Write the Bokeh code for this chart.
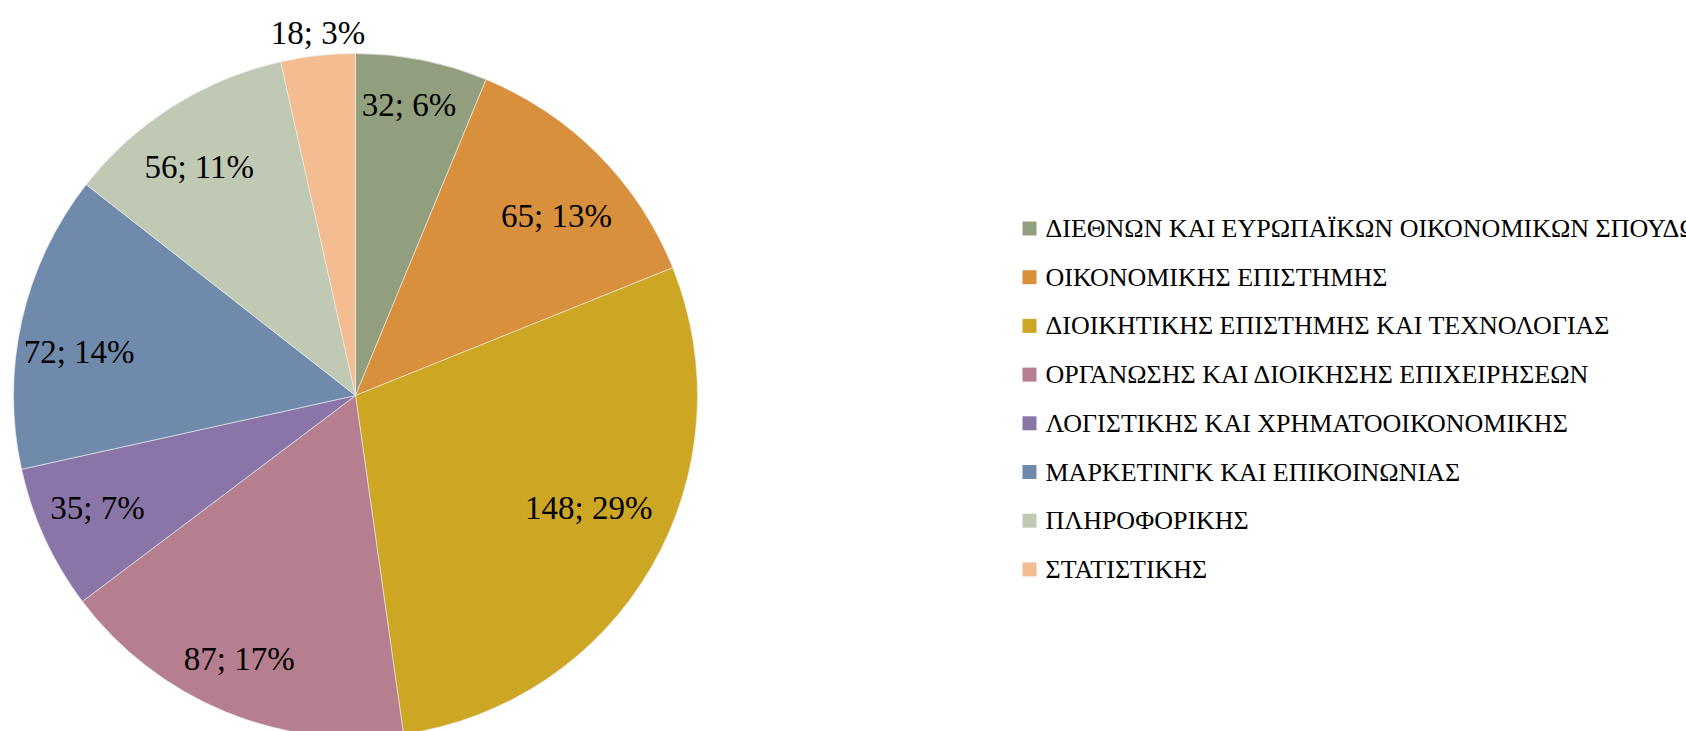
import math
from bokeh.plotting import figure
from bokeh.models import Range1d, ColumnDataSource
from bokeh.core.properties import value
from bokeh.embed import file_html
from bokeh.resources import INLINE

# ---- data ----
categories = [
    "ΔΙΕΘΝΩΝ ΚΑΙ ΕΥΡΩΠΑΪΚΩΝ ΟΙΚΟΝΟΜΙΚΩΝ ΣΠΟΥΔΩΝ",
    "ΟΙΚΟΝΟΜΙΚΗΣ ΕΠΙΣΤΗΜΗΣ",
    "ΔΙΟΙΚΗΤΙΚΗΣ ΕΠΙΣΤΗΜΗΣ ΚΑΙ ΤΕΧΝΟΛΟΓΙΑΣ",
    "ΟΡΓΑΝΩΣΗΣ ΚΑΙ ΔΙΟΙΚΗΣΗΣ ΕΠΙΧΕΙΡΗΣΕΩΝ",
    "ΛΟΓΙΣΤΙΚΗΣ ΚΑΙ ΧΡΗΜΑΤΟΟΙΚΟΝΟΜΙΚΗΣ",
    "ΜΑΡΚΕΤΙΝΓΚ ΚΑΙ ΕΠΙΚΟΙΝΩΝΙΑΣ",
    "ΠΛΗΡΟΦΟΡΙΚΗΣ",
    "ΣΤΑΤΙΣΤΙΚΗΣ",
]
counts = [32, 65, 148, 87, 35, 72, 56, 18]
percents = [6, 13, 29, 17, 7, 14, 11, 3]

# ---- styles / layout ----
colors = ["#929F7F", "#D8903D", "#CDA623", "#B67F8F", "#8A75A8", "#6F8AAB", "#C0C9B3", "#F4BC91"]
label_r = [0.864, 0.789, 0.757, 0.841, 0.823, 0.818, 0.809, 1.066]   # fraction of radius
label_da = [-0.8, 2.9, -4.25, 1.4, 1.2, -3.9, -2.1, 0.4]            # degrees, clockwise
FONT = "Liberation Serif"

W, H = 1686, 731
cx, cy, R = 355, 731 - 395, 342

p = figure(width=W, height=H, output_backend="svg", toolbar_location=None,
           x_range=Range1d(0, W), y_range=Range1d(0, H), min_border=0)
p.axis.visible = False
p.grid.visible = False
p.outline_line_color = None
p.background_fill_color = "white"
p.border_fill_color = "white"

total = sum(counts)
starts, ends, lx, ly, texts = [], [], [], [], []
cum = 0
for i, c in enumerate(counts):
    a0 = math.pi / 2 - 2 * math.pi * cum / total
    a1 = math.pi / 2 - 2 * math.pi * (cum + c) / total
    mid = (a0 + a1) / 2 - math.radians(label_da[i])
    starts.append(a0)
    ends.append(a1)
    lx.append(cx + R * label_r[i] * math.cos(mid))
    ly.append(cy + R * label_r[i] * math.sin(mid))
    texts.append(f"{c}; {percents[i]}%")
    cum += c

src = ColumnDataSource(dict(start=starts, end=ends, color=colors,
                            lx=lx, ly=ly, text=texts))
p.wedge(x=cx, y=cy, radius=R, start_angle="start", end_angle="end",
        direction="clock", fill_color="color", line_color="#F0F0F0",
        line_width=0.6, source=src)
p.text(x="lx", y="ly", text="text", source=src, text_align="center",
       text_baseline="middle", text_font=value(FONT), text_font_size="33px",
       text_color="black")

# ---- legend ----
leg_x = 1022
leg_y0 = 731 - 228
leg_dy = 48.7
ys = [leg_y0 - i * leg_dy for i in range(len(categories))]
lsrc = ColumnDataSource(dict(y=ys, color=colors, name=categories))
p.rect(x=leg_x + 7, y="y", width=14, height=14, fill_color="color",
       line_color=None, source=lsrc)
p.text(x=leg_x + 23, y="y", text="name", source=lsrc, text_align="left",
       text_baseline="middle", text_font=value(FONT), text_font_size="26px",
       text_color="black")

open("out.html", "w").write(file_html(p, INLINE))
